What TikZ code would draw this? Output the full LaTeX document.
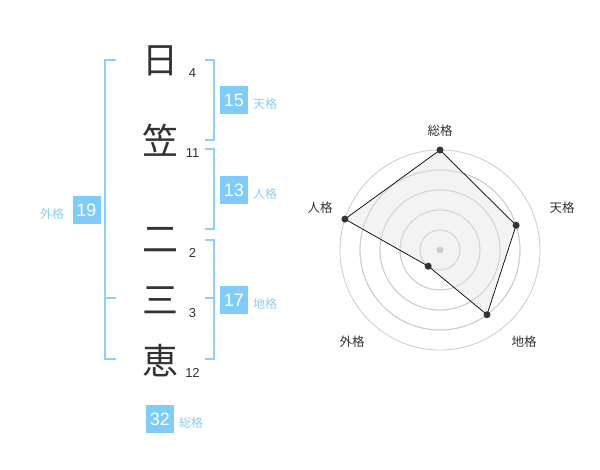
\documentclass[tikz,border=0pt]{standalone}
\usepackage{fontspec}
\setmainfont{Liberation Sans}
\newfontfamily\jp{Noto Sans CJK JP}
\definecolor{kblue}{HTML}{80CCF8}
\definecolor{kline}{HTML}{8CCFF7}
\definecolor{ktext}{HTML}{8DCFF5}
\definecolor{kdark}{HTML}{333333}
\definecolor{kgrid}{HTML}{CCCCCC}
\definecolor{kfill}{HTML}{F0F0F0}
\begin{document}
\begin{tikzpicture}[x=1pt,y=-1pt,
  kanji/.style={font=\jp\fontsize{36}{36}\selectfont, text=kdark, inner sep=0pt},
  stroke/.style={font=\fontsize{13}{13}\selectfont, text=kdark, inner sep=0pt},
  numbox/.style={fill=kblue, text=white, minimum width=28pt, minimum height=28pt, inner sep=0pt, font=\fontsize{18}{18}\selectfont},
  kaku/.style={font=\jp\fontsize{12}{12}\selectfont, text=ktext, inner sep=0pt, anchor=west},
  bracket/.style={draw=kline, line width=2pt},
  rlabel/.style={font=\jp\fontsize{12.5}{12.5}\selectfont, text=kdark, inner sep=0pt},
  ring/.style={draw=kgrid, line width=0.8pt},
  vdot/.style={circle, fill=kdark, inner sep=0pt, minimum size=7pt}
]
\useasboundingbox (0,0) rectangle (600,470);
\fill[white] (0,0) rectangle (600,470);

% characters
\node[kanji] (c1) at (160,61) {日};
\node[kanji] (c2) at (160,140) {笠};
\node[kanji] (c3) at (160,240) {二};
\node[kanji] (c4) at (160,300) {三};
\node[kanji] (c5) at (160,361) {恵};
\node[stroke] (s1) at (192.5,73) {4};
\node[stroke] (s2) at (192.5,153) {11};
\node[stroke] (s3) at (192.5,252.5) {2};
\node[stroke] (s4) at (192.5,313) {3};
\node[stroke] (s5) at (192.5,373) {12};

% brackets
\draw[bracket] (116,60) -- (105,60) -- (105,359) -- (116,359);
\draw[bracket] (105,298) -- (116,298);
\draw[bracket] (205,60) -- (214,60) -- (214,140) -- (205,140);
\draw[bracket] (205,149) -- (214,149) -- (214,229) -- (205,229);
\draw[bracket] (205,240) -- (214,240) -- (214,359) -- (205,359);
\draw[bracket] (205,298) -- (214,298);

% grade boxes
\node[numbox] (b15) at (234,100) {15};
\node[kaku] (l15) at (253,104) {天格};
\node[numbox] (b13) at (234,190) {13};
\node[kaku] (l13) at (253,194) {人格};
\node[numbox] (b17) at (234,300) {17};
\node[kaku] (l17) at (253,304) {地格};
\node[numbox] (b19) at (86.5,210) {19};
\node[kaku] (l19) at (40,214) {外格};
\node[numbox] (b32) at (160,419) {32};
\node[kaku] (l32) at (179,422.5) {総格};

% radar chart
\coordinate (rc) at (440,250);
\foreach \r in {20,40,60,80,100} \draw[ring] (rc) circle[radius=\r];
\coordinate (pS) at (440,150);
\coordinate (pT) at (516.1,225.3);
\coordinate (pC) at (487.0,314.7);
\coordinate (pG) at (428.2,266.2);
\coordinate (pJ) at (344.9,219.1);
\fill[kfill, opacity=0.8] (pS) -- (pT) -- (pC) -- (pG) -- (pJ) -- cycle;
\foreach \r in {20,40,60,80} \draw[kgrid, line width=0.8pt, opacity=0.9] (rc) circle[radius=\r];
\fill[kgrid] (rc) circle[radius=3.5];
\draw[black, line width=0.7pt] (pS) -- (pT) -- (pC) -- (pG) -- (pJ) -- cycle;
\foreach \p in {pS,pT,pC,pG,pJ} \node[vdot] at (\p) {};
\node[rlabel] (rS) at (440,131) {総格};
\node[rlabel] (rT) at (562,208) {天格};
\node[rlabel] (rC) at (524,342) {地格};
\node[rlabel] (rG) at (352,342) {外格};
\node[rlabel] (rJ) at (320,208) {人格};
\end{tikzpicture}
\end{document}
